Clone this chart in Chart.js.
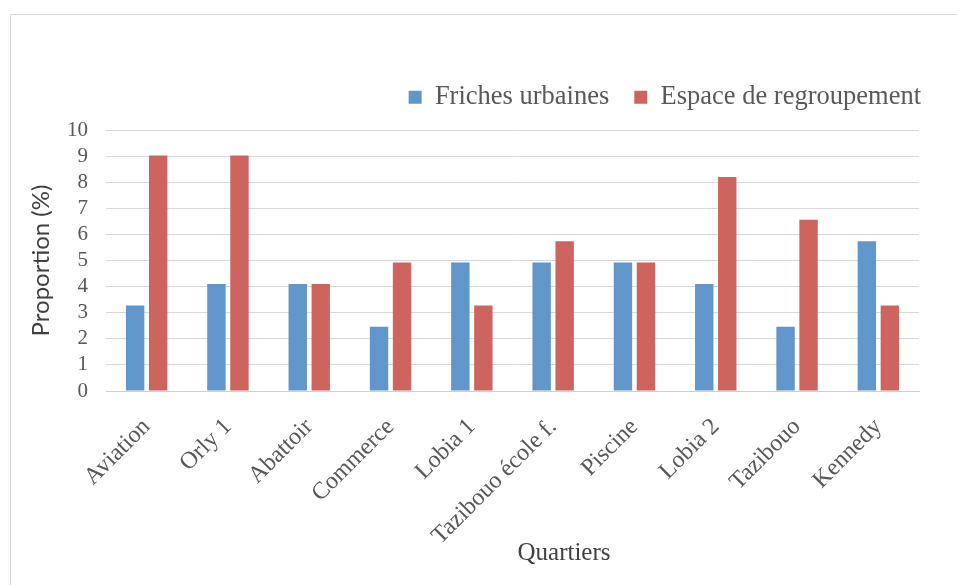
<!DOCTYPE html>
<html>
<head>
<meta charset="utf-8">
<script src="https://cdn.jsdelivr.net/npm/chart.js@4.4.1/dist/chart.umd.min.js"></script>
<style>
  html, body { margin: 0; padding: 0; background: #fff; }
  #wrap { position: relative; width: 957px; height: 585px; overflow: hidden; }
  #frame { position: absolute; left: 10px; top: 14px; width: 960px; height: 600px;
           border: 1px solid #d9d9d9; box-sizing: border-box; pointer-events: none; }
</style>
</head>
<body>
<div id="wrap">
  <canvas id="chart" width="957" height="585"></canvas>
  <div id="frame"></div>
</div>
<script>
// quartiers et proportions (%)
const quartiers = ["Aviation", "Orly 1", "Abattoir", "Commerce", "Lobia 1",
  "Tazibouo école f.", "Piscine", "Lobia 2", "Tazibouo", "Kennedy"];
const friches = [3.28, 4.1, 4.1, 2.46, 4.92, 4.92, 4.92, 4.1, 2.46, 5.74];
const regroupement = [9.02, 9.02, 4.1, 4.92, 3.28, 5.74, 4.92, 8.2, 6.56, 3.28];
const yTicks = [0, 1, 2, 3, 4, 5, 6, 7, 8, 9, 10];

const serif = "'Liberation Serif', 'Times New Roman', serif";
const grey = "#595959";

// legend: fixed height, and its row drawn out to the plot's right edge
const legendFit = {
  id: 'legendFit',
  beforeInit(chart) {
    const legend = chart.legend;
    const fit = legend.fit;
    legend.fit = function () {
      fit.call(this);
      this.height = 71;
    };
    const draw = legend.draw;
    legend.draw = function () {
      const r = this.right;
      this.right = r + 27;
      draw.call(this);
      this.right = r;
    };
  }
};

// x axis title, drawn a bit right of centre
const xTitle = {
  id: 'xTitle',
  afterDraw(chart) {
    const ctx = chart.ctx;
    ctx.save();
    ctx.font = "25px " + serif;
    ctx.fillStyle = "#404040";
    ctx.textAlign = "center";
    ctx.textBaseline = "middle";
    ctx.fillText("Quartiers", 564, 553);
    ctx.restore();
  }
};

new Chart(document.getElementById("chart"), {
  type: 'bar',
  data: {
    labels: quartiers,
    datasets: [
      { label: "Friches urbaines", data: friches, backgroundColor: "#6096c9" },
      { label: "Espace de regroupement", data: regroupement, backgroundColor: "#cd645e" }
    ]
  },
  options: {
    responsive: false,
    animation: false,
    layout: { padding: { top: 59, left: 12, right: 38, bottom: 0 } },
    datasets: { bar: { categoryPercentage: 0.566, barPercentage: 0.8 } },
    plugins: {
      tooltip: { enabled: false },
      legend: {
        position: 'top',
        align: 'end',
        labels: {
          boxWidth: 13, boxHeight: 13, padding: 25,
          color: grey,
          font: { family: serif, size: 26.5 }
        }
      }
    },
    scales: {
      x: {
        grid: { display: false, drawTicks: false },
        border: { color: "#d0d0d0" },
        ticks: {
          maxRotation: 45, minRotation: 45, padding: 22,
          color: grey, font: { family: serif, size: 24 }
        },
        afterFit(scale) { scale.height = 194; }
      },
      y: {
        min: 0, max: 10,
        afterBuildTicks(scale) { scale.ticks = yTicks.map(v => ({ value: v })); },
        grid: { color: "#d9d9d9", drawTicks: false },
        border: { display: false },
        ticks: {
          autoSkip: false, padding: 18,
          color: grey, font: { family: serif, size: 21 }
        },
        title: {
          display: true, text: "Proportion (%)", color: "#404040",
          font: { family: "Lato, 'Open Sans', sans-serif", size: 24 },
          padding: { top: 15, bottom: 4 }
        },
        afterFit(scale) { scale.width = 106 - 12; }
      }
    }
  },
  plugins: [legendFit, xTitle]
});
</script>
</body>
</html>
